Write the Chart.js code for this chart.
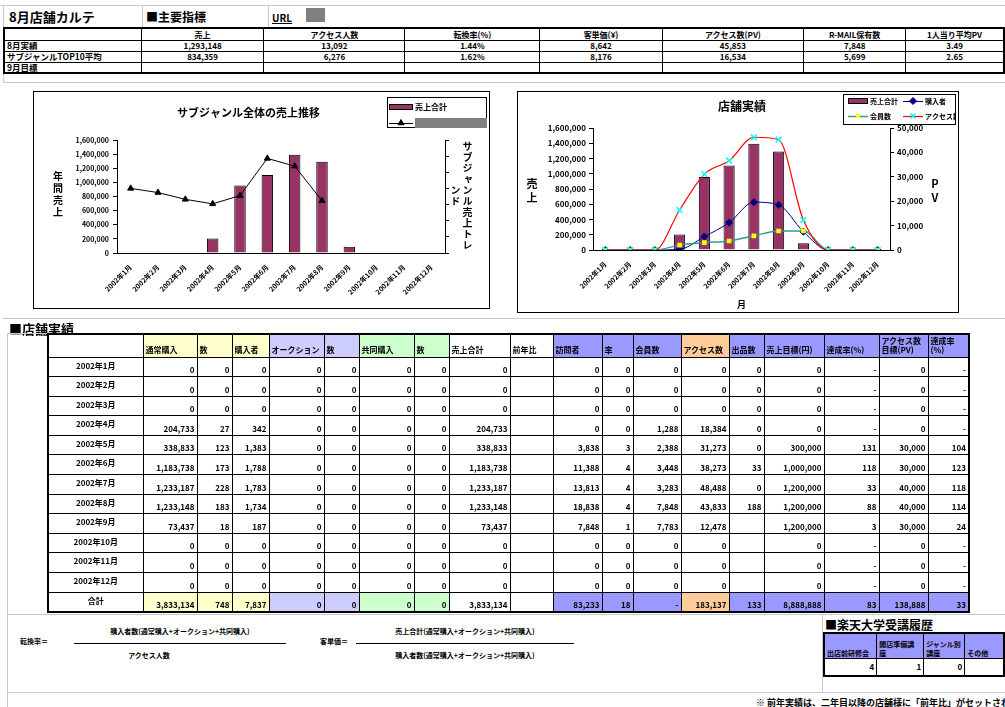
<!DOCTYPE html>
<html>
<head>
<meta charset="utf-8">
<script src="https://cdn.jsdelivr.net/npm/chart.js@4.4.1/dist/chart.umd.min.js"></script>
<style>
body { margin: 0; background: #fff; font-family: "Noto Sans CJK JP", "Noto Sans", sans-serif; font-weight: bold; color: #000; }
#page { position: relative; width: 1005px; height: 707px; overflow: hidden; }
.txt { position: absolute; white-space: nowrap; }
.hl { position: absolute; height: 1px; background: #c8c8c8; }
.vl { position: absolute; width: 1px; background: #c8c8c8; }
table { position: absolute; border-collapse: collapse; table-layout: fixed; border: 2px solid #000; }
td { border: 1px solid #000; padding: 0 2px; overflow: hidden; white-space: nowrap; font-size: 8px; line-height: 9px; }
.chartbox { position: absolute; border: 1px solid #000; background: #fff; }
.vt { position: absolute; writing-mode: vertical-rl; text-orientation: upright; white-space: normal; text-align: center; }
.stack { position: absolute; text-align: center; width: 14px; }
.frac { position: absolute; font-size: 7px; text-align: center; white-space: nowrap; }
</style>
</head>
<body>
<div id="page">
  <div class="hl" style="left:0;top:5px;width:1005px"></div>
  <div class="vl" style="left:3px;top:5px;height:77px"></div>
  <div class="vl" style="left:142px;top:5px;height:23px"></div>
  <div class="vl" style="left:268px;top:5px;height:23px"></div>
  <div class="txt" style="left:9px;top:7px;font-size:13px">8月店舗カルテ</div>
  <div class="txt" style="left:146px;top:8px;font-size:12px">■主要指標</div>
  <div class="txt" style="left:272px;top:10px;font-size:10px;text-decoration:underline">URL</div>
  <div style="position:absolute;left:306px;top:8px;width:19px;height:14px;background:#808080"></div>
  <table id="kpi" style="left:3px;top:27px"></table>
  <div class="hl" style="left:3px;top:82px;width:1002px"></div>

  <div class="chartbox" style="left:33px;top:91px;width:455px;height:216px">
    <canvas id="c1" width="453" height="214"></canvas>
  </div>
  <div class="stack" style="left:51px;top:170px;font-size:10px;line-height:12px">年<br>間<br>売<br>上</div>
  <div class="vt" style="left:449px;top:140px;height:112px;font-size:10px;line-height:12px;letter-spacing:1px">サブジャンル売上トレンド</div>

  <div class="chartbox" style="left:517px;top:91px;width:440px;height:220px">
    <canvas id="c2" width="438" height="218"></canvas>
  </div>
  <div class="stack" style="left:525px;top:176px;font-size:11px;line-height:14px">売<br>上</div>
  <div class="stack" style="left:928px;top:176px;font-size:11px;line-height:14px">P<br>V</div>

  <div class="hl" style="left:3px;top:318px;width:1002px"></div>
  <div class="txt" style="left:9px;top:319px;font-size:13px">■店舗実績</div>
  <div class="vl" style="left:7px;top:333px;height:374px"></div>
  <div class="hl" style="left:7px;top:333px;width:40px"></div>
  <table id="perf" style="left:47px;top:333px"></table>

  <div class="hl" style="left:7px;top:614px;width:998px"></div>
  <div class="frac" style="left:20px;top:636px">転換率＝</div>
  <div class="frac" style="left:74px;top:626px;width:212px">購入者数(通常購入+オークション+共同購入)</div>
  <div style="position:absolute;left:74px;top:643px;width:212px;height:1px;background:#000"></div>
  <div class="frac" style="left:74px;top:650px;width:150px">アクセス人数</div>
  <div class="frac" style="left:320px;top:636px">客単価＝</div>
  <div class="frac" style="left:356px;top:626px;width:218px">売上合計(通常購入+オークション+共同購入)</div>
  <div style="position:absolute;left:356px;top:643px;width:218px;height:1px;background:#000"></div>
  <div class="frac" style="left:356px;top:650px;width:218px">購入者数(通常購入+オークション+共同購入)</div>

  <div class="vl" style="left:822px;top:614px;height:79px"></div>
  <div class="txt" style="left:825px;top:616px;font-size:12px">■楽天大学受講履歴</div>
  <table id="univ" style="left:823px;top:632px"></table>
  <div class="hl" style="left:7px;top:692px;width:998px"></div>
  <div class="txt" style="left:756px;top:696px;font-size:9px">※ 前年実績は、二年目以降の店舗様に「前年比」がセットされます</div>
</div>

<script>
// chart data
const months = ['2002年1月', '2002年2月', '2002年3月', '2002年4月', '2002年5月', '2002年6月',
  '2002年7月', '2002年8月', '2002年9月', '2002年10月', '2002年11月', '2002年12月'];
const salesTotal = [0, 0, 0, 204733, 958000, 1108000, 1395000, 1293148, 88000, 0, 0, 0];
const subGenreTrend = [40100000, 37500000, 33300000, 30500000, 35600000, 58700000, 53900000, 32500000, null, null, null, null];
const buyers = [0, 0, 0, 300, 5500, 11200, 19600, 18500, 7500, 0, 0, 0];
const members = [0, 0, 0, 2000, 3000, 3700, 5800, 7800, 7800, 0, 0, 0];
const accessPV = [0, 0, 0, 16400, 31100, 36600, 46200, 45200, 12300, 0, 0, 0];
const salesAxis = [0, 1600000, 200000];
const trendAxis = [0, 70000000, 10000000];
const pvAxis = [0, 50000, 5000];

// table data
const kpiHeaders = ['', '売上', 'アクセス人数', '転換率(%)', '客単価(¥)', 'アクセス数(PV)', 'R-MAIL保有数', '1人当り平均PV'];
const kpiRows = [
  ['8月実績', '1,293,148', '13,092', '1.44%', '8,642', '45,853', '7,848', '3.49'],
  ['サブジャンルTOP10平均', '834,359', '6,276', '1.62%', '8,176', '16,534', '5,699', '2.65'],
  ['9月目標', '', '', '', '', '', '', '']
];
const perfHeaders = ['', '通常購入', '数', '購入者', 'オークション', '数', '共同購入', '数', '売上合計', '前年比',
  '訪問者', '率', '会員数', 'アクセス数', '出品数', '売上目標(円)', '達成率(%)', 'アクセス数<br>目標(PV)', '達成率<br>(%)'];
const perfRows = [
  ['2002年1月', '0', '0', '0', '0', '0', '0', '0', '0', '', '0', '0', '0', '0', '0', '0', '-', '0', '-'],
  ['2002年2月', '0', '0', '0', '0', '0', '0', '0', '0', '', '0', '0', '0', '0', '0', '0', '-', '0', '-'],
  ['2002年3月', '0', '0', '0', '0', '0', '0', '0', '0', '', '0', '0', '0', '0', '0', '0', '-', '0', '-'],
  ['2002年4月', '204,733', '27', '342', '0', '0', '0', '0', '204,733', '', '0', '0', '1,288', '18,384', '0', '0', '-', '0', '-'],
  ['2002年5月', '338,833', '123', '1,383', '0', '0', '0', '0', '338,833', '', '3,838', '3', '2,388', '31,273', '0', '300,000', '131', '30,000', '104'],
  ['2002年6月', '1,183,738', '173', '1,788', '0', '0', '0', '0', '1,183,738', '', '11,388', '4', '3,448', '38,273', '33', '1,000,000', '118', '30,000', '123'],
  ['2002年7月', '1,233,187', '228', '1,783', '0', '0', '0', '0', '1,233,187', '', '13,813', '4', '3,283', '48,488', '0', '1,200,000', '33', '40,000', '118'],
  ['2002年8月', '1,233,148', '183', '1,734', '0', '0', '0', '0', '1,233,148', '', '18,838', '4', '7,848', '43,833', '188', '1,200,000', '88', '40,000', '114'],
  ['2002年9月', '73,437', '18', '187', '0', '0', '0', '0', '73,437', '', '7,848', '1', '7,783', '12,478', '', '1,200,000', '3', '30,000', '24'],
  ['2002年10月', '0', '0', '0', '0', '0', '0', '0', '0', '', '0', '0', '0', '0', '', '0', '-', '0', '-'],
  ['2002年11月', '0', '0', '0', '0', '0', '0', '0', '0', '', '0', '0', '0', '0', '', '0', '-', '0', '-'],
  ['2002年12月', '0', '0', '0', '0', '0', '0', '0', '0', '', '0', '0', '0', '0', '', '0', '-', '0', '-'],
  ['合計', '3,833,134', '748', '7,837', '0', '0', '0', '0', '3,833,134', '', '83,233', '18', '-', '183,137', '133', '8,888,888', '83', '138,888', '33']
];
const univHeaders = ['出店前研修会', '開店準備講座', 'ジャンル別講座', 'その他'];
const univValues = ['4', '1', '0', ''];

// ---- tables
function colgroup(widths) {
  return '<colgroup>' + widths.map(w => `<col style="width:${w}px">`).join('') + '</colgroup>';
}

const kpiWidths = [139, 126, 145, 139, 126, 145, 104, 100];
let h = colgroup(kpiWidths);
h += '<tr style="height:12px">' + kpiHeaders.map(t => `<td style="text-align:center">${t}</td>`).join('') + '</tr>';
kpiRows.forEach(r => {
  h += '<tr style="height:11px">' + r.map((t, i) =>
    `<td style="text-align:${i ? 'center' : 'left'};font-size:${i ? 8 : 8.5}px">${t}</td>`).join('') + '</tr>';
});
document.getElementById('kpi').innerHTML = h;

const perfWidths = [95, 54, 35, 37, 55, 35, 55, 35, 61, 43, 49, 31, 48, 48, 35, 60, 55, 49, 41];
const yellow = '#ffffcc', lav = '#ccccff', green = '#ccffcc', blue = '#9999ff', orange = '#ffcc99';
const headColors = ['#fff', yellow, yellow, yellow, lav, lav, green, green, '#fff', '#fff',
  blue, blue, blue, orange, blue, blue, blue, blue, blue];
h = colgroup(perfWidths);
h += '<tr style="height:23px">' + perfHeaders.map((t, i) =>
  `<td style="background:${headColors[i]};vertical-align:bottom;padding-bottom:3px;white-space:normal;line-height:9px">${t}</td>`).join('') + '</tr>';
perfRows.forEach((r, ri) => {
  const total = ri === perfRows.length - 1;
  h += '<tr style="height:19.6px">' + r.map((t, i) => {
    if (i === 0) return `<td style="text-align:center;vertical-align:top;padding-top:3px">${t}</td>`;
    const bg = total ? headColors[i] : '#fff';
    return `<td style="text-align:right;vertical-align:bottom;padding-bottom:2px;background:${bg}">${t}</td>`;
  }).join('') + '</tr>';
});
document.getElementById('perf').innerHTML = h;

h = colgroup([54, 48, 42, 40]);
h += '<tr style="height:25px">' + univHeaders.map(t =>
  `<td style="background:${blue};white-space:normal;vertical-align:bottom;font-size:7px">${t}</td>`).join('') + '</tr>';
h += '<tr style="height:18px">' + univValues.map(t => `<td style="text-align:right">${t}</td>`).join('') + '</tr>';
document.getElementById('univ').innerHTML = h;

// ---- charts
Chart.defaults.font.family = '"Noto Sans CJK JP", "Noto Sans", sans-serif';
Chart.defaults.font.weight = 'bold';
Chart.defaults.font.size = 8;
Chart.defaults.color = '#000';

function fallbackPoint(ctx, style, r, x, y) {
  ctx.beginPath();
  if (style === 'triangle') { ctx.moveTo(x, y - r); ctx.lineTo(x + r, y + r * 0.7); ctx.lineTo(x - r, y + r * 0.7); ctx.closePath(); ctx.fill(); }
  else if (style === 'rectRot') { ctx.moveTo(x, y - r); ctx.lineTo(x + r, y); ctx.lineTo(x, y + r); ctx.lineTo(x - r, y); ctx.closePath(); ctx.fill(); }
  else if (style === 'crossRot') { ctx.moveTo(x - r, y - r); ctx.lineTo(x + r, y + r); ctx.moveTo(x + r, y - r); ctx.lineTo(x - r, y + r); ctx.stroke(); }
  else { ctx.fillRect(x - r, y - r, 2 * r, 2 * r); }
}

// Excel style boxed legend drawn from the datasets
const boxLegend = {
  id: 'boxLegend',
  afterDraw(chart, args, o) {
    const ctx = chart.ctx;
    ctx.save();
    ctx.fillStyle = '#fff';
    ctx.fillRect(o.x, o.y, o.w, o.h);
    ctx.strokeStyle = '#000';
    ctx.lineWidth = 1;
    ctx.strokeRect(o.x + 0.5, o.y + 0.5, o.w - 1, o.h - 1);
    ctx.font = 'bold ' + o.font + 'px "Noto Sans CJK JP"';
    ctx.textBaseline = 'middle';
    chart.data.datasets.forEach((ds, i) => {
      const x = o.x + o.items[i][0], y = o.y + o.items[i][1];
      if (ds.type === 'bar') {
        ctx.fillStyle = ds.backgroundColor;
        ctx.fillRect(x, y - 3, o.sym, 6);
        ctx.strokeStyle = '#000';
        ctx.lineWidth = 1;
        ctx.strokeRect(x + 0.5, y - 2.5, o.sym - 1, 5);
      } else {
        ctx.strokeStyle = ds.borderColor;
        ctx.lineWidth = ds.borderWidth;
        ctx.beginPath();
        ctx.moveTo(x, y + 0.5);
        ctx.lineTo(x + o.sym, y + 0.5);
        ctx.stroke();
        ctx.fillStyle = ds.pointBackgroundColor;
        ctx.strokeStyle = ds.pointBorderColor;
        ctx.lineWidth = ds.pointBorderWidth || 1;
        const r = Math.min(ds.pointRadius, 3.5);
        if (Chart.helpers && Chart.helpers.drawPoint) {
          Chart.helpers.drawPoint(ctx, { pointStyle: ds.pointStyle, radius: r, rotation: 0, borderWidth: ds.pointBorderWidth || 1 }, x + o.sym / 2, y);
        } else {
          fallbackPoint(ctx, ds.pointStyle, r, x + o.sym / 2, y);
        }
      }
      if (o.mask && o.mask.includes(i)) {
        ctx.fillStyle = '#808080';
        ctx.fillRect(x + o.sym + 2, y - 5, o.w - o.items[i][0] - o.sym - 2, 10);
      } else {
        ctx.fillStyle = '#000';
        ctx.fillText(ds.label, x + o.sym + 2, y);
      }
    });
    ctx.restore();
  }
};

const numFmt = v => v.toLocaleString('en-US');
const axisGrid = { display: true, drawOnChartArea: false, drawTicks: true, tickLength: 4, color: '#000' };
const axisBorder = { display: true, color: '#000', width: 1 };

new Chart(document.getElementById('c1'), {
  data: {
    labels: months,
    datasets: [
      {
        type: 'bar', label: '売上合計', data: salesTotal, yAxisID: 'y', order: 2,
        backgroundColor: '#993366', borderColor: '#000', borderWidth: 1,
        categoryPercentage: 1, barPercentage: 0.42
      },
      {
        type: 'line', label: 'サブジャンル売上トレンド', data: subGenreTrend, yAxisID: 'y2', order: 1,
        borderColor: '#000', borderWidth: 1, tension: 0,
        pointStyle: 'triangle', pointRadius: 3.5, pointBackgroundColor: '#000', pointBorderColor: '#000'
      }
    ]
  },
  options: {
    responsive: false,
    animation: false,
    layout: { padding: { left: 10, right: 34, top: 0, bottom: 0 } },
    plugins: {
      legend: { display: false },
      tooltip: { enabled: false },
      title: { display: true, text: 'サブジャンル全体の売上推移', font: { size: 11 }, padding: { top: 14, bottom: 21 } },
      boxLegend: {
        x: 353, y: 5, w: 100, h: 31, sym: 24, font: 8,
        items: [[2, 10], [2, 26]], mask: [1]
      }
    },
    scales: {
      x: {
        grid: { display: false }, border: axisBorder,
        ticks: { minRotation: 45, maxRotation: 45, autoSkip: false, padding: 2, font: { size: 7 } },
        afterFit: s => { s.height = 53; }
      },
      y: {
        min: salesAxis[0], max: salesAxis[1],
        ticks: { stepSize: salesAxis[2], callback: numFmt, padding: 4, font: { size: 7 } },
        grid: axisGrid, border: axisBorder,
        afterFit: s => { s.width = 73; }
      },
      y2: {
        position: 'right', min: trendAxis[0], max: trendAxis[1],
        ticks: { stepSize: trendAxis[2], display: false },
        grid: axisGrid, border: axisBorder,
        afterFit: s => { s.width = 8; }
      }
    }
  },
  plugins: [boxLegend]
});

new Chart(document.getElementById('c2'), {
  data: {
    labels: months,
    datasets: [
      {
        type: 'bar', label: '売上合計', data: salesTotal, yAxisID: 'y', order: 5,
        backgroundColor: '#993366', borderColor: '#000', borderWidth: 1,
        categoryPercentage: 1, barPercentage: 0.45
      },
      {
        type: 'line', label: '購入者', data: buyers, yAxisID: 'y2', order: 3,
        borderColor: '#000080', borderWidth: 1, cubicInterpolationMode: 'monotone',
        pointStyle: 'rectRot', pointRadius: 3.5, pointBackgroundColor: '#000080', pointBorderColor: '#000080'
      },
      {
        type: 'line', label: '会員数', data: members, yAxisID: 'y2', order: 2,
        borderColor: '#339999', borderWidth: 1.5, cubicInterpolationMode: 'monotone',
        pointStyle: 'rect', pointRadius: 2.2, pointBackgroundColor: '#ffff00', pointBorderColor: '#ffff00'
      },
      {
        type: 'line', label: 'アクセス数', data: accessPV, yAxisID: 'y2', order: 1,
        borderColor: '#ff0000', borderWidth: 1.2, cubicInterpolationMode: 'monotone',
        pointStyle: 'crossRot', pointRadius: 4, pointBorderWidth: 1.5,
        pointBackgroundColor: '#00ffff', pointBorderColor: '#00ffff'
      }
    ]
  },
  options: {
    responsive: false,
    animation: false,
    layout: { padding: { left: 28, right: 18, top: 0, bottom: 0 } },
    plugins: {
      legend: { display: false },
      tooltip: { enabled: false },
      title: { display: true, text: '店舗実績', font: { size: 12 }, padding: { top: 7, bottom: 14.6 } },
      boxLegend: {
        x: 325, y: 2, w: 113, h: 31, sym: 20, font: 7,
        items: [[5, 7], [60, 7], [5, 22], [60, 22]]
      }
    },
    scales: {
      x: {
        grid: { display: false }, border: axisBorder,
        ticks: { minRotation: 45, maxRotation: 45, autoSkip: false, padding: 2, font: { size: 7 } },
        title: { display: true, text: '月', font: { size: 9 }, padding: 0 },
        afterFit: s => { s.height = 60; }
      },
      y: {
        min: salesAxis[0], max: salesAxis[1],
        ticks: { stepSize: salesAxis[2], callback: numFmt, padding: 3, font: { size: 8 } },
        grid: axisGrid, border: axisBorder,
        afterFit: s => { s.width = 47; }
      },
      y2: {
        position: 'right', min: pvAxis[0], max: pvAxis[1],
        ticks: { stepSize: pvAxis[2], callback: numFmt, padding: 3, font: { size: 8 } },
        grid: axisGrid, border: axisBorder,
        afterFit: s => { s.width = 48; }
      }
    }
  },
  plugins: [boxLegend]
});
</script>
</body>
</html>
